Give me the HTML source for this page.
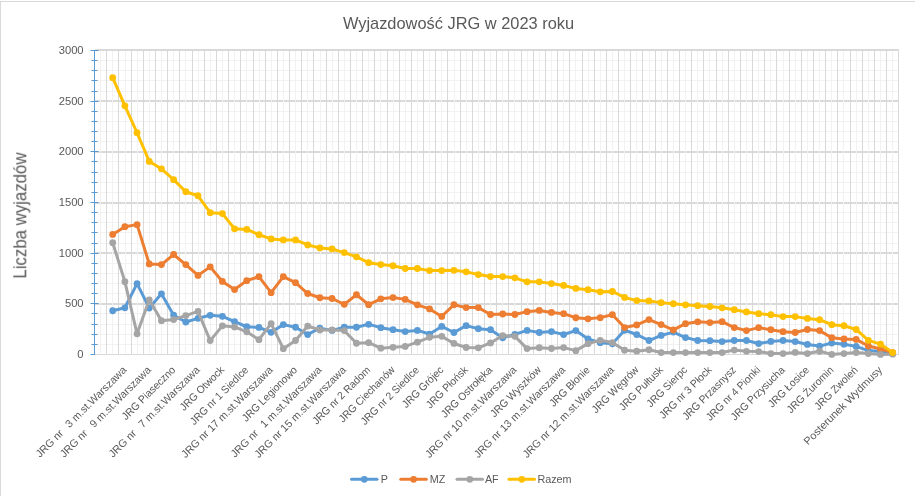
<!DOCTYPE html><html><head><meta charset="utf-8"><title>Wyjazdowość JRG w 2023 roku</title><style>html,body{margin:0;padding:0;background:#fff;width:915px;height:496px;overflow:hidden}svg{display:block}text{font-family:"Liberation Sans",sans-serif}</style></head><body>
<svg width="915" height="496" viewBox="0 0 915 496">
<rect x="0" y="0" width="915" height="496" fill="#fff"/>
<rect x="0" y="1" width="915" height="1" fill="#d9d9d9"/>
<rect x="0" y="1" width="1" height="495" fill="#d9d9d9"/>
<path d="M94.5 344.5H898.5M94.5 334.5H898.5M94.5 324.5H898.5M94.5 313.5H898.5M94.5 293.5H898.5M94.5 283.5H898.5M94.5 273.5H898.5M94.5 263.5H898.5M94.5 243.5H898.5M94.5 232.5H898.5M94.5 222.5H898.5M94.5 212.5H898.5M94.5 192.5H898.5M94.5 182.5H898.5M94.5 172.5H898.5M94.5 161.5H898.5M94.5 141.5H898.5M94.5 131.5H898.5M94.5 121.5H898.5M94.5 111.5H898.5M94.5 91.5H898.5M94.5 80.5H898.5M94.5 70.5H898.5M94.5 60.5H898.5" stroke="#f2f2f2" stroke-width="1" fill="none"/>
<path d="M95.0 304.0H899.0M95.0 253.0H899.0M95.0 203.0H899.0M95.0 152.0H899.0M95.0 101.0H899.0" stroke="#d9d9d9" stroke-width="2" fill="none"/>
<path d="M100.5 51V354M112.5 51V354M125.5 51V354M137.5 51V354M149.5 51V354M161.5 51V354M173.5 51V354M185.5 51V354M198.5 51V354M210.5 51V354M222.5 51V354M234.5 51V354M246.5 51V354M259.5 51V354M271.5 51V354M283.5 51V354M295.5 51V354M307.5 51V354M320.5 51V354M332.5 51V354M344.5 51V354M356.5 51V354M368.5 51V354M380.5 51V354M393.5 51V354M405.5 51V354M417.5 51V354M429.5 51V354M441.5 51V354M454.5 51V354M466.5 51V354M478.5 51V354M490.5 51V354M502.5 51V354M514.5 51V354M527.5 51V354M539.5 51V354M551.5 51V354M563.5 51V354M575.5 51V354M588.5 51V354M600.5 51V354M612.5 51V354M624.5 51V354M636.5 51V354M649.5 51V354M661.5 51V354M673.5 51V354M685.5 51V354M697.5 51V354M709.5 51V354M722.5 51V354M734.5 51V354M746.5 51V354M758.5 51V354M770.5 51V354M783.5 51V354M795.5 51V354M807.5 51V354M819.5 51V354M831.5 51V354M843.5 51V354M856.5 51V354M868.5 51V354M880.5 51V354M892.5 51V354" stroke="#f2f2f2" stroke-width="1" fill="none"/>
<path d="M106.5 51V354M118.5 51V354M131.5 51V354M143.5 51V354M155.5 51V354M167.5 51V354M179.5 51V354M192.5 51V354M204.5 51V354M216.5 51V354M228.5 51V354M240.5 51V354M253.5 51V354M265.5 51V354M277.5 51V354M289.5 51V354M301.5 51V354M313.5 51V354M326.5 51V354M338.5 51V354M350.5 51V354M362.5 51V354M374.5 51V354M387.5 51V354M399.5 51V354M411.5 51V354M423.5 51V354M435.5 51V354M447.5 51V354M460.5 51V354M472.5 51V354M484.5 51V354M496.5 51V354M508.5 51V354M521.5 51V354M533.5 51V354M545.5 51V354M557.5 51V354M569.5 51V354M582.5 51V354M594.5 51V354M606.5 51V354M618.5 51V354M630.5 51V354M642.5 51V354M655.5 51V354M667.5 51V354M679.5 51V354M691.5 51V354M703.5 51V354M716.5 51V354M728.5 51V354M740.5 51V354M752.5 51V354M764.5 51V354M776.5 51V354M789.5 51V354M801.5 51V354M813.5 51V354M825.5 51V354M837.5 51V354M850.5 51V354M862.5 51V354M874.5 51V354M886.5 51V354M898.5 51V354" stroke="#d9d9d9" stroke-width="1" fill="none"/>
<path d="M95.0 50H899.0" stroke="#d9d9d9" stroke-width="2" fill="none"/>
<path d="M95.0 354.5H899.0" stroke="#d9d9d9" stroke-width="1" fill="none"/>
<path d="M94.5 50.0V355.0M90.5 354.5H95.0M91.5 344.5H97.5M91.5 334.5H97.5M91.5 324.5H97.5M91.5 313.5H97.5M90.5 303.5H98.5M91.5 293.5H97.5M91.5 283.5H97.5M91.5 273.5H97.5M91.5 263.5H97.5M90.5 253.5H98.5M91.5 243.5H97.5M91.5 232.5H97.5M91.5 222.5H97.5M91.5 212.5H97.5M90.5 202.5H98.5M91.5 192.5H97.5M91.5 182.5H97.5M91.5 172.5H97.5M91.5 161.5H97.5M90.5 151.5H98.5M91.5 141.5H97.5M91.5 131.5H97.5M91.5 121.5H97.5M91.5 111.5H97.5M90.5 101.5H98.5M91.5 91.5H97.5M91.5 80.5H97.5M91.5 70.5H97.5M91.5 60.5H97.5M90.5 50.5H98.5" stroke="#5b9bd5" stroke-width="1" fill="none"/>
<path d="M112.69 310.74L124.88 307.80L137.06 283.69L149.25 308.00L161.44 293.82L173.63 315.19L185.82 321.98L198.00 318.33L210.19 315.30L222.38 316.31L234.57 321.68L246.76 326.74L258.94 327.45L271.13 332.31L283.32 324.62L295.51 327.25L307.70 334.54L319.88 328.16L332.07 330.39L344.26 327.25L356.45 327.25L368.64 324.31L380.82 327.65L393.01 329.68L405.20 331.60L417.39 330.39L429.58 334.04L441.76 326.44L453.95 332.52L466.14 325.63L478.33 328.67L490.52 329.68L502.70 337.78L514.89 334.44L527.08 330.39L539.27 332.52L551.46 331.60L563.64 334.54L575.83 330.59L588.02 338.90L600.21 342.65L612.40 343.86L624.58 330.29L636.77 334.54L648.96 340.52L661.15 335.45L673.34 332.11L685.52 337.58L697.71 340.52L709.90 340.72L722.09 341.53L734.28 340.52L746.46 340.52L758.65 343.56L770.84 341.43L783.03 340.52L795.22 341.53L807.40 344.47L819.59 346.09L831.78 343.05L843.97 344.17L856.16 346.39L868.34 350.55L880.53 351.56L892.72 353.59" stroke="#5b9bd5" stroke-width="3" fill="none" stroke-linejoin="round" stroke-linecap="round"/><g fill="#5b9bd5"><circle cx="112.69" cy="310.74" r="3.4"/><circle cx="124.88" cy="307.80" r="3.4"/><circle cx="137.06" cy="283.69" r="3.4"/><circle cx="149.25" cy="308.00" r="3.4"/><circle cx="161.44" cy="293.82" r="3.4"/><circle cx="173.63" cy="315.19" r="3.4"/><circle cx="185.82" cy="321.98" r="3.4"/><circle cx="198.00" cy="318.33" r="3.4"/><circle cx="210.19" cy="315.30" r="3.4"/><circle cx="222.38" cy="316.31" r="3.4"/><circle cx="234.57" cy="321.68" r="3.4"/><circle cx="246.76" cy="326.74" r="3.4"/><circle cx="258.94" cy="327.45" r="3.4"/><circle cx="271.13" cy="332.31" r="3.4"/><circle cx="283.32" cy="324.62" r="3.4"/><circle cx="295.51" cy="327.25" r="3.4"/><circle cx="307.70" cy="334.54" r="3.4"/><circle cx="319.88" cy="328.16" r="3.4"/><circle cx="332.07" cy="330.39" r="3.4"/><circle cx="344.26" cy="327.25" r="3.4"/><circle cx="356.45" cy="327.25" r="3.4"/><circle cx="368.64" cy="324.31" r="3.4"/><circle cx="380.82" cy="327.65" r="3.4"/><circle cx="393.01" cy="329.68" r="3.4"/><circle cx="405.20" cy="331.60" r="3.4"/><circle cx="417.39" cy="330.39" r="3.4"/><circle cx="429.58" cy="334.04" r="3.4"/><circle cx="441.76" cy="326.44" r="3.4"/><circle cx="453.95" cy="332.52" r="3.4"/><circle cx="466.14" cy="325.63" r="3.4"/><circle cx="478.33" cy="328.67" r="3.4"/><circle cx="490.52" cy="329.68" r="3.4"/><circle cx="502.70" cy="337.78" r="3.4"/><circle cx="514.89" cy="334.44" r="3.4"/><circle cx="527.08" cy="330.39" r="3.4"/><circle cx="539.27" cy="332.52" r="3.4"/><circle cx="551.46" cy="331.60" r="3.4"/><circle cx="563.64" cy="334.54" r="3.4"/><circle cx="575.83" cy="330.59" r="3.4"/><circle cx="588.02" cy="338.90" r="3.4"/><circle cx="600.21" cy="342.65" r="3.4"/><circle cx="612.40" cy="343.86" r="3.4"/><circle cx="624.58" cy="330.29" r="3.4"/><circle cx="636.77" cy="334.54" r="3.4"/><circle cx="648.96" cy="340.52" r="3.4"/><circle cx="661.15" cy="335.45" r="3.4"/><circle cx="673.34" cy="332.11" r="3.4"/><circle cx="685.52" cy="337.58" r="3.4"/><circle cx="697.71" cy="340.52" r="3.4"/><circle cx="709.90" cy="340.72" r="3.4"/><circle cx="722.09" cy="341.53" r="3.4"/><circle cx="734.28" cy="340.52" r="3.4"/><circle cx="746.46" cy="340.52" r="3.4"/><circle cx="758.65" cy="343.56" r="3.4"/><circle cx="770.84" cy="341.43" r="3.4"/><circle cx="783.03" cy="340.52" r="3.4"/><circle cx="795.22" cy="341.53" r="3.4"/><circle cx="807.40" cy="344.47" r="3.4"/><circle cx="819.59" cy="346.09" r="3.4"/><circle cx="831.78" cy="343.05" r="3.4"/><circle cx="843.97" cy="344.17" r="3.4"/><circle cx="856.16" cy="346.39" r="3.4"/><circle cx="868.34" cy="350.55" r="3.4"/><circle cx="880.53" cy="351.56" r="3.4"/><circle cx="892.72" cy="353.59" r="3.4"/></g>
<path d="M112.69 234.46L124.88 226.66L137.06 224.63L149.25 263.94L161.44 264.54L173.63 254.52L185.82 264.54L198.00 275.38L210.19 266.87L222.38 281.46L234.57 289.57L246.76 280.65L258.94 276.70L271.13 292.71L283.32 276.60L295.51 282.68L307.70 293.52L319.88 297.77L332.07 298.48L344.26 304.36L356.45 294.73L368.64 304.66L380.82 298.78L393.01 297.57L405.20 299.39L417.39 304.86L429.58 308.91L441.76 316.41L453.95 304.76L466.14 307.60L478.33 307.60L490.52 314.49L502.70 313.98L514.89 314.49L527.08 311.65L539.27 310.43L551.46 312.46L563.64 313.67L575.83 317.73L588.02 318.84L600.21 317.63L612.40 314.69L624.58 327.55L636.77 324.92L648.96 319.55L661.15 324.62L673.34 329.88L685.52 323.70L697.71 321.78L709.90 322.59L722.09 321.68L734.28 327.55L746.46 330.59L758.65 327.65L770.84 329.68L783.03 331.71L795.22 332.52L807.40 329.48L819.59 330.59L831.78 337.68L843.97 338.90L856.16 339.41L868.34 345.99L880.53 349.03L892.72 352.57" stroke="#ed7d31" stroke-width="3" fill="none" stroke-linejoin="round" stroke-linecap="round"/><g fill="#ed7d31"><circle cx="112.69" cy="234.46" r="3.4"/><circle cx="124.88" cy="226.66" r="3.4"/><circle cx="137.06" cy="224.63" r="3.4"/><circle cx="149.25" cy="263.94" r="3.4"/><circle cx="161.44" cy="264.54" r="3.4"/><circle cx="173.63" cy="254.52" r="3.4"/><circle cx="185.82" cy="264.54" r="3.4"/><circle cx="198.00" cy="275.38" r="3.4"/><circle cx="210.19" cy="266.87" r="3.4"/><circle cx="222.38" cy="281.46" r="3.4"/><circle cx="234.57" cy="289.57" r="3.4"/><circle cx="246.76" cy="280.65" r="3.4"/><circle cx="258.94" cy="276.70" r="3.4"/><circle cx="271.13" cy="292.71" r="3.4"/><circle cx="283.32" cy="276.60" r="3.4"/><circle cx="295.51" cy="282.68" r="3.4"/><circle cx="307.70" cy="293.52" r="3.4"/><circle cx="319.88" cy="297.77" r="3.4"/><circle cx="332.07" cy="298.48" r="3.4"/><circle cx="344.26" cy="304.36" r="3.4"/><circle cx="356.45" cy="294.73" r="3.4"/><circle cx="368.64" cy="304.66" r="3.4"/><circle cx="380.82" cy="298.78" r="3.4"/><circle cx="393.01" cy="297.57" r="3.4"/><circle cx="405.20" cy="299.39" r="3.4"/><circle cx="417.39" cy="304.86" r="3.4"/><circle cx="429.58" cy="308.91" r="3.4"/><circle cx="441.76" cy="316.41" r="3.4"/><circle cx="453.95" cy="304.76" r="3.4"/><circle cx="466.14" cy="307.60" r="3.4"/><circle cx="478.33" cy="307.60" r="3.4"/><circle cx="490.52" cy="314.49" r="3.4"/><circle cx="502.70" cy="313.98" r="3.4"/><circle cx="514.89" cy="314.49" r="3.4"/><circle cx="527.08" cy="311.65" r="3.4"/><circle cx="539.27" cy="310.43" r="3.4"/><circle cx="551.46" cy="312.46" r="3.4"/><circle cx="563.64" cy="313.67" r="3.4"/><circle cx="575.83" cy="317.73" r="3.4"/><circle cx="588.02" cy="318.84" r="3.4"/><circle cx="600.21" cy="317.63" r="3.4"/><circle cx="612.40" cy="314.69" r="3.4"/><circle cx="624.58" cy="327.55" r="3.4"/><circle cx="636.77" cy="324.92" r="3.4"/><circle cx="648.96" cy="319.55" r="3.4"/><circle cx="661.15" cy="324.62" r="3.4"/><circle cx="673.34" cy="329.88" r="3.4"/><circle cx="685.52" cy="323.70" r="3.4"/><circle cx="697.71" cy="321.78" r="3.4"/><circle cx="709.90" cy="322.59" r="3.4"/><circle cx="722.09" cy="321.68" r="3.4"/><circle cx="734.28" cy="327.55" r="3.4"/><circle cx="746.46" cy="330.59" r="3.4"/><circle cx="758.65" cy="327.65" r="3.4"/><circle cx="770.84" cy="329.68" r="3.4"/><circle cx="783.03" cy="331.71" r="3.4"/><circle cx="795.22" cy="332.52" r="3.4"/><circle cx="807.40" cy="329.48" r="3.4"/><circle cx="819.59" cy="330.59" r="3.4"/><circle cx="831.78" cy="337.68" r="3.4"/><circle cx="843.97" cy="338.90" r="3.4"/><circle cx="856.16" cy="339.41" r="3.4"/><circle cx="868.34" cy="345.99" r="3.4"/><circle cx="880.53" cy="349.03" r="3.4"/><circle cx="892.72" cy="352.57" r="3.4"/></g>
<path d="M112.69 242.66L124.88 281.66L137.06 333.83L149.25 299.80L161.44 320.66L173.63 319.55L185.82 315.60L198.00 311.45L210.19 340.62L222.38 325.83L234.57 326.95L246.76 331.81L258.94 339.71L271.13 323.60L283.32 348.72L295.51 340.52L307.70 326.03L319.88 329.98L332.07 329.98L344.26 330.59L356.45 343.25L368.64 342.65L380.82 348.22L393.01 347.31L405.20 346.39L417.39 342.14L429.58 337.28L441.76 336.37L453.95 343.46L466.14 347.51L478.33 347.81L490.52 342.95L502.70 335.56L514.89 336.37L527.08 348.62L539.27 347.71L551.46 348.52L563.64 347.61L575.83 350.65L588.02 343.66L600.21 340.32L612.40 342.55L624.58 350.24L636.77 351.16L648.96 349.74L661.15 352.57L673.34 352.57L685.52 352.57L697.71 352.57L709.90 352.57L722.09 352.57L734.28 350.04L746.46 351.36L758.65 351.56L770.84 353.59L783.03 353.59L795.22 352.47L807.40 353.59L819.59 351.26L831.78 354.40L843.97 353.59L856.16 352.57L868.34 353.59L880.53 354.40L892.72 354.19" stroke="#a5a5a5" stroke-width="3" fill="none" stroke-linejoin="round" stroke-linecap="round"/><g fill="#a5a5a5"><circle cx="112.69" cy="242.66" r="3.4"/><circle cx="124.88" cy="281.66" r="3.4"/><circle cx="137.06" cy="333.83" r="3.4"/><circle cx="149.25" cy="299.80" r="3.4"/><circle cx="161.44" cy="320.66" r="3.4"/><circle cx="173.63" cy="319.55" r="3.4"/><circle cx="185.82" cy="315.60" r="3.4"/><circle cx="198.00" cy="311.45" r="3.4"/><circle cx="210.19" cy="340.62" r="3.4"/><circle cx="222.38" cy="325.83" r="3.4"/><circle cx="234.57" cy="326.95" r="3.4"/><circle cx="246.76" cy="331.81" r="3.4"/><circle cx="258.94" cy="339.71" r="3.4"/><circle cx="271.13" cy="323.60" r="3.4"/><circle cx="283.32" cy="348.72" r="3.4"/><circle cx="295.51" cy="340.52" r="3.4"/><circle cx="307.70" cy="326.03" r="3.4"/><circle cx="319.88" cy="329.98" r="3.4"/><circle cx="332.07" cy="329.98" r="3.4"/><circle cx="344.26" cy="330.59" r="3.4"/><circle cx="356.45" cy="343.25" r="3.4"/><circle cx="368.64" cy="342.65" r="3.4"/><circle cx="380.82" cy="348.22" r="3.4"/><circle cx="393.01" cy="347.31" r="3.4"/><circle cx="405.20" cy="346.39" r="3.4"/><circle cx="417.39" cy="342.14" r="3.4"/><circle cx="429.58" cy="337.28" r="3.4"/><circle cx="441.76" cy="336.37" r="3.4"/><circle cx="453.95" cy="343.46" r="3.4"/><circle cx="466.14" cy="347.51" r="3.4"/><circle cx="478.33" cy="347.81" r="3.4"/><circle cx="490.52" cy="342.95" r="3.4"/><circle cx="502.70" cy="335.56" r="3.4"/><circle cx="514.89" cy="336.37" r="3.4"/><circle cx="527.08" cy="348.62" r="3.4"/><circle cx="539.27" cy="347.71" r="3.4"/><circle cx="551.46" cy="348.52" r="3.4"/><circle cx="563.64" cy="347.61" r="3.4"/><circle cx="575.83" cy="350.65" r="3.4"/><circle cx="588.02" cy="343.66" r="3.4"/><circle cx="600.21" cy="340.32" r="3.4"/><circle cx="612.40" cy="342.55" r="3.4"/><circle cx="624.58" cy="350.24" r="3.4"/><circle cx="636.77" cy="351.16" r="3.4"/><circle cx="648.96" cy="349.74" r="3.4"/><circle cx="661.15" cy="352.57" r="3.4"/><circle cx="673.34" cy="352.57" r="3.4"/><circle cx="685.52" cy="352.57" r="3.4"/><circle cx="697.71" cy="352.57" r="3.4"/><circle cx="709.90" cy="352.57" r="3.4"/><circle cx="722.09" cy="352.57" r="3.4"/><circle cx="734.28" cy="350.04" r="3.4"/><circle cx="746.46" cy="351.36" r="3.4"/><circle cx="758.65" cy="351.56" r="3.4"/><circle cx="770.84" cy="353.59" r="3.4"/><circle cx="783.03" cy="353.59" r="3.4"/><circle cx="795.22" cy="352.47" r="3.4"/><circle cx="807.40" cy="353.59" r="3.4"/><circle cx="819.59" cy="351.26" r="3.4"/><circle cx="831.78" cy="354.40" r="3.4"/><circle cx="843.97" cy="353.59" r="3.4"/><circle cx="856.16" cy="352.57" r="3.4"/><circle cx="868.34" cy="353.59" r="3.4"/><circle cx="880.53" cy="354.40" r="3.4"/><circle cx="892.72" cy="354.19" r="3.4"/></g>
<path d="M112.69 77.65L124.88 105.81L137.06 132.75L149.25 161.42L161.44 168.82L173.63 179.65L185.82 191.71L198.00 195.76L210.19 212.68L222.38 213.59L234.57 228.79L246.76 229.39L258.94 234.76L271.13 238.92L283.32 239.93L295.51 239.93L307.70 244.89L319.88 247.93L332.07 248.94L344.26 252.59L356.45 256.85L368.64 262.72L380.82 264.54L393.01 265.76L405.20 268.50L417.39 268.50L429.58 270.62L441.76 270.62L453.95 270.32L466.14 271.84L478.33 274.57L490.52 276.60L502.70 276.60L514.89 277.81L527.08 281.87L539.27 281.87L551.46 283.59L563.64 285.41L575.83 288.45L588.02 289.67L600.21 291.79L612.40 291.49L624.58 297.47L636.77 300.61L648.96 300.91L661.15 302.63L673.34 303.75L685.52 304.86L697.71 305.67L709.90 306.48L722.09 307.80L734.28 309.72L746.46 311.95L758.65 313.67L770.84 314.69L783.03 316.61L795.22 316.61L807.40 318.44L819.59 319.75L831.78 324.72L843.97 325.73L856.16 329.48L868.34 340.42L880.53 344.17L892.72 352.57" stroke="#ffc000" stroke-width="3" fill="none" stroke-linejoin="round" stroke-linecap="round"/><g fill="#ffc000"><circle cx="112.69" cy="77.65" r="3.4"/><circle cx="124.88" cy="105.81" r="3.4"/><circle cx="137.06" cy="132.75" r="3.4"/><circle cx="149.25" cy="161.42" r="3.4"/><circle cx="161.44" cy="168.82" r="3.4"/><circle cx="173.63" cy="179.65" r="3.4"/><circle cx="185.82" cy="191.71" r="3.4"/><circle cx="198.00" cy="195.76" r="3.4"/><circle cx="210.19" cy="212.68" r="3.4"/><circle cx="222.38" cy="213.59" r="3.4"/><circle cx="234.57" cy="228.79" r="3.4"/><circle cx="246.76" cy="229.39" r="3.4"/><circle cx="258.94" cy="234.76" r="3.4"/><circle cx="271.13" cy="238.92" r="3.4"/><circle cx="283.32" cy="239.93" r="3.4"/><circle cx="295.51" cy="239.93" r="3.4"/><circle cx="307.70" cy="244.89" r="3.4"/><circle cx="319.88" cy="247.93" r="3.4"/><circle cx="332.07" cy="248.94" r="3.4"/><circle cx="344.26" cy="252.59" r="3.4"/><circle cx="356.45" cy="256.85" r="3.4"/><circle cx="368.64" cy="262.72" r="3.4"/><circle cx="380.82" cy="264.54" r="3.4"/><circle cx="393.01" cy="265.76" r="3.4"/><circle cx="405.20" cy="268.50" r="3.4"/><circle cx="417.39" cy="268.50" r="3.4"/><circle cx="429.58" cy="270.62" r="3.4"/><circle cx="441.76" cy="270.62" r="3.4"/><circle cx="453.95" cy="270.32" r="3.4"/><circle cx="466.14" cy="271.84" r="3.4"/><circle cx="478.33" cy="274.57" r="3.4"/><circle cx="490.52" cy="276.60" r="3.4"/><circle cx="502.70" cy="276.60" r="3.4"/><circle cx="514.89" cy="277.81" r="3.4"/><circle cx="527.08" cy="281.87" r="3.4"/><circle cx="539.27" cy="281.87" r="3.4"/><circle cx="551.46" cy="283.59" r="3.4"/><circle cx="563.64" cy="285.41" r="3.4"/><circle cx="575.83" cy="288.45" r="3.4"/><circle cx="588.02" cy="289.67" r="3.4"/><circle cx="600.21" cy="291.79" r="3.4"/><circle cx="612.40" cy="291.49" r="3.4"/><circle cx="624.58" cy="297.47" r="3.4"/><circle cx="636.77" cy="300.61" r="3.4"/><circle cx="648.96" cy="300.91" r="3.4"/><circle cx="661.15" cy="302.63" r="3.4"/><circle cx="673.34" cy="303.75" r="3.4"/><circle cx="685.52" cy="304.86" r="3.4"/><circle cx="697.71" cy="305.67" r="3.4"/><circle cx="709.90" cy="306.48" r="3.4"/><circle cx="722.09" cy="307.80" r="3.4"/><circle cx="734.28" cy="309.72" r="3.4"/><circle cx="746.46" cy="311.95" r="3.4"/><circle cx="758.65" cy="313.67" r="3.4"/><circle cx="770.84" cy="314.69" r="3.4"/><circle cx="783.03" cy="316.61" r="3.4"/><circle cx="795.22" cy="316.61" r="3.4"/><circle cx="807.40" cy="318.44" r="3.4"/><circle cx="819.59" cy="319.75" r="3.4"/><circle cx="831.78" cy="324.72" r="3.4"/><circle cx="843.97" cy="325.73" r="3.4"/><circle cx="856.16" cy="329.48" r="3.4"/><circle cx="868.34" cy="340.42" r="3.4"/><circle cx="880.53" cy="344.17" r="3.4"/><circle cx="892.72" cy="352.57" r="3.4"/></g>
<path d="M351.50 479.3H377.00" stroke="#5b9bd5" stroke-width="3" stroke-linecap="round"/>
<circle cx="364.30" cy="479.3" r="3.4" fill="#5b9bd5"/>
<path d="M400.80 479.3H426.30" stroke="#ed7d31" stroke-width="3" stroke-linecap="round"/>
<circle cx="413.60" cy="479.3" r="3.4" fill="#ed7d31"/>
<path d="M457.00 479.3H482.50" stroke="#a5a5a5" stroke-width="3" stroke-linecap="round"/>
<circle cx="469.80" cy="479.3" r="3.4" fill="#a5a5a5"/>
<path d="M509.00 479.3H534.50" stroke="#ffc000" stroke-width="3" stroke-linecap="round"/>
<circle cx="521.80" cy="479.3" r="3.4" fill="#ffc000"/>
<g opacity="0.999" fill="#595959">
<text x="83.6" y="358.00" font-size="11.2" text-anchor="end">0</text>
<text x="83.6" y="307.00" font-size="11.2" text-anchor="end">500</text>
<text x="83.6" y="257.00" font-size="11.2" text-anchor="end">1000</text>
<text x="83.6" y="206.00" font-size="11.2" text-anchor="end">1500</text>
<text x="83.6" y="155.00" font-size="11.2" text-anchor="end">2000</text>
<text x="83.6" y="105.00" font-size="11.2" text-anchor="end">2500</text>
<text x="83.6" y="54.00" font-size="11.2" text-anchor="end">3000</text>
<text transform="translate(127.28,370.60) rotate(-45) scale(1,1)" font-size="10.7" text-anchor="end">JRG nr   3 m.st.Warszawa</text>
<text transform="translate(151.65,370.60) rotate(-45) scale(1,1)" font-size="10.7" text-anchor="end">JRG nr   9 m.st.Warszawa</text>
<text transform="translate(176.03,370.60) rotate(-45) scale(0.96,1)" font-size="10.7" text-anchor="end">JRG Piaseczno</text>
<text transform="translate(200.40,370.60) rotate(-45) scale(1,1)" font-size="10.7" text-anchor="end">JRG nr   7 m.st.Warszawa</text>
<text transform="translate(224.78,370.60) rotate(-45) scale(0.96,1)" font-size="10.7" text-anchor="end">JRG Otwock</text>
<text transform="translate(249.16,370.60) rotate(-45) scale(0.96,1)" font-size="10.7" text-anchor="end">JRG nr 1 Siedlce</text>
<text transform="translate(273.53,370.60) rotate(-45) scale(1,1)" font-size="10.7" text-anchor="end">JRG nr 17 m.st.Warszawa</text>
<text transform="translate(297.91,370.60) rotate(-45) scale(0.96,1)" font-size="10.7" text-anchor="end">JRG Legionowo</text>
<text transform="translate(322.28,370.60) rotate(-45) scale(1,1)" font-size="10.7" text-anchor="end">JRG nr   1 m.st.Warszawa</text>
<text transform="translate(346.66,370.60) rotate(-45) scale(1,1)" font-size="10.7" text-anchor="end">JRG nr 15 m.st.Warszawa</text>
<text transform="translate(371.04,370.60) rotate(-45) scale(0.96,1)" font-size="10.7" text-anchor="end">JRG nr 2 Radom</text>
<text transform="translate(395.41,370.60) rotate(-45) scale(0.96,1)" font-size="10.7" text-anchor="end">JRG Ciechanów</text>
<text transform="translate(419.79,370.60) rotate(-45) scale(0.96,1)" font-size="10.7" text-anchor="end">JRG nr 2 Siedlce</text>
<text transform="translate(444.16,370.60) rotate(-45) scale(0.96,1)" font-size="10.7" text-anchor="end">JRG Grójec</text>
<text transform="translate(468.54,370.60) rotate(-45) scale(0.96,1)" font-size="10.7" text-anchor="end">JRG Płońsk</text>
<text transform="translate(492.92,370.60) rotate(-45) scale(0.96,1)" font-size="10.7" text-anchor="end">JRG Ostrołęka</text>
<text transform="translate(517.29,370.60) rotate(-45) scale(1,1)" font-size="10.7" text-anchor="end">JRG nr 10 m.st.Warszawa</text>
<text transform="translate(541.67,370.60) rotate(-45) scale(0.96,1)" font-size="10.7" text-anchor="end">JRG Wyszków</text>
<text transform="translate(566.04,370.60) rotate(-45) scale(1,1)" font-size="10.7" text-anchor="end">JRG nr 13 m.st.Warszawa</text>
<text transform="translate(590.42,370.60) rotate(-45) scale(0.96,1)" font-size="10.7" text-anchor="end">JRG Błonie</text>
<text transform="translate(614.80,370.60) rotate(-45) scale(1,1)" font-size="10.7" text-anchor="end">JRG nr 12 m.st.Warszawa</text>
<text transform="translate(639.17,370.60) rotate(-45) scale(0.96,1)" font-size="10.7" text-anchor="end">JRG Węgrów</text>
<text transform="translate(663.55,370.60) rotate(-45) scale(0.96,1)" font-size="10.7" text-anchor="end">JRG Pułtusk</text>
<text transform="translate(687.92,370.60) rotate(-45) scale(0.96,1)" font-size="10.7" text-anchor="end">JRG Sierpc</text>
<text transform="translate(712.30,370.60) rotate(-45) scale(0.96,1)" font-size="10.7" text-anchor="end">JRG nr 3 Płock</text>
<text transform="translate(736.68,370.60) rotate(-45) scale(0.96,1)" font-size="10.7" text-anchor="end">JRG Przasnysz</text>
<text transform="translate(761.05,370.60) rotate(-45) scale(0.96,1)" font-size="10.7" text-anchor="end">JRG nr 4 Pionki</text>
<text transform="translate(785.43,370.60) rotate(-45) scale(0.96,1)" font-size="10.7" text-anchor="end">JRG Przysucha</text>
<text transform="translate(809.80,370.60) rotate(-45) scale(0.96,1)" font-size="10.7" text-anchor="end">JRG Łosice</text>
<text transform="translate(834.18,370.60) rotate(-45) scale(0.96,1)" font-size="10.7" text-anchor="end">JRG Żuromin</text>
<text transform="translate(858.56,370.60) rotate(-45) scale(0.96,1)" font-size="10.7" text-anchor="end">JRG Zwoleń</text>
<text transform="translate(882.93,370.60) rotate(-45) scale(1.02,1)" font-size="10.7" text-anchor="end">Posterunek Wydmusy</text>
<text x="458.5" y="28.6" font-size="16.4" text-anchor="middle">Wyjazdowość JRG w 2023 roku</text>
<text transform="translate(26.3,215.5) rotate(-90) scale(0.945,1)" font-size="17.8" text-anchor="middle">Liczba wyjazdów</text>
<text x="380.70" y="483.1" font-size="10.8">P</text>
<text x="429.70" y="483.1" font-size="10.8">MZ</text>
<text x="484.90" y="483.1" font-size="10.8">AF</text>
<text x="537.40" y="483.1" font-size="10.8">Razem</text>
</g>
</svg></body></html>
